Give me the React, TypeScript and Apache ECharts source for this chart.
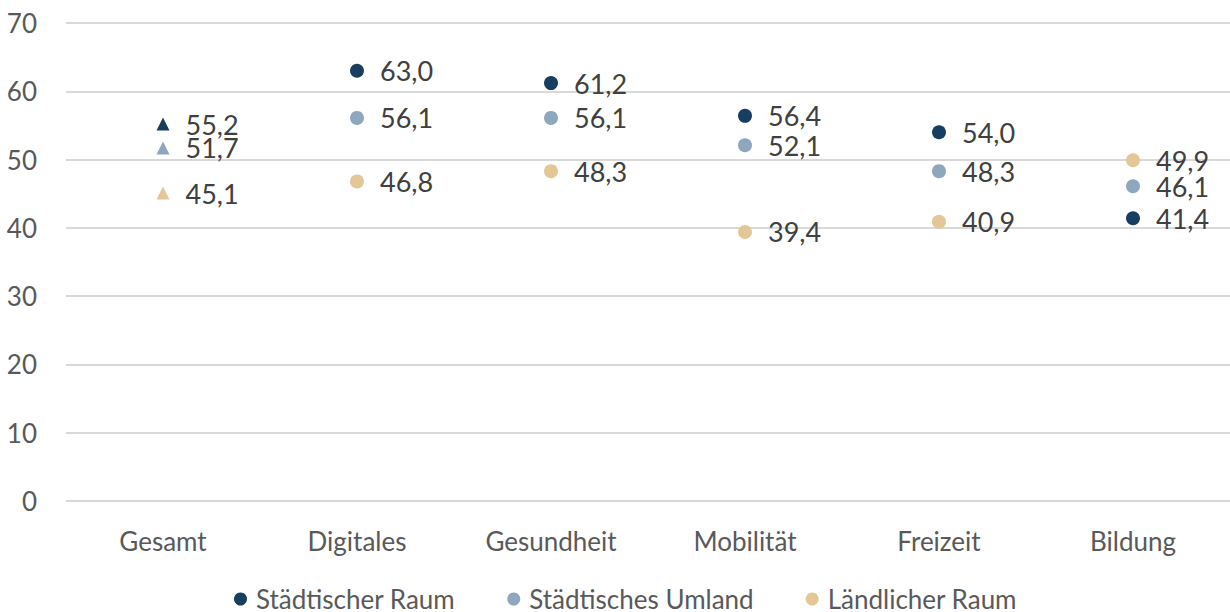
import React, { useEffect, useRef } from "react";
import * as echarts from "echarts";

const categories = ["Gesamt", "Digitales", "Gesundheit", "Mobilität", "Freizeit", "Bildung"];
const seriesNames = ["Städtischer Raum", "Städtisches Umland", "Ländlicher Raum"];
const staedtisch = [55.2, 63.0, 61.2, 56.4, 54.0, 41.4];
const umland = [51.7, 56.1, 56.1, 52.1, 48.3, 46.1];
const laendlich = [45.1, 46.8, 48.3, 39.4, 40.9, 49.9];
const colors = ["#173d60", "#8ea7bf", "#e3c796"];
const yTicks = { min: 0, max: 70, interval: 10 };

const FONT = "Lato, 'Open Sans', sans-serif";

export default function App() {
  const ref = useRef<HTMLDivElement>(null);
  useEffect(() => {
    if (!ref.current) return;
    const chart = echarts.init(ref.current, undefined, { renderer: "svg" });
    const datasets = [staedtisch, umland, laendlich];
    chart.setOption({
      animation: false,
      textStyle: { fontFamily: FONT },
      grid: { left: 66, top: 23, width: 1170, height: 478 },
      legend: {
        left: 229,
        top: 580,
        itemGap: 52,
        icon: "circle",
        itemWidth: 13,
        itemHeight: 13,
        textStyle: {
          fontSize: 26,
          lineHeight: 28,
          color: "#595959",
          fontFamily: FONT,
          padding: [0, 0, 0, 4],
        },
        data: seriesNames,
      },
      xAxis: {
        type: "category",
        data: categories,
        axisLine: { show: false },
        axisTick: { show: false },
        axisLabel: { fontSize: 26, color: "#595959", margin: 27, fontFamily: FONT },
      },
      yAxis: {
        type: "value",
        min: yTicks.min,
        max: yTicks.max,
        interval: yTicks.interval,
        axisLine: { show: false },
        axisTick: { show: false },
        splitLine: { lineStyle: { color: "#d9d9d9", width: 2 } },
        axisLabel: { fontSize: 26, color: "#595959", margin: 29, fontFamily: FONT },
      },
      series: datasets.map((d, i) => ({
        type: "scatter",
        name: seriesNames[i],
        itemStyle: { color: colors[i], opacity: 1 },
        symbolSize: 14,
        data: d.map((v, j) =>
          j === 0 ? { value: v, symbol: "triangle", symbolSize: 13 } : { value: v, symbol: "circle" }
        ),
        label: {
          show: true,
          position: "right",
          distance: 16,
          fontSize: 27,
          color: "#404040",
          fontFamily: FONT,
          formatter: (p: any) => Number(p.value).toFixed(1).replace(".", ","),
        },
      })),
    });
    return () => chart.dispose();
  }, []);
  return (
    <div
      ref={ref}
      style={{ position: "fixed", left: 0, top: 0, width: 1230, height: 612, background: "#fff" }}
    />
  );
}
